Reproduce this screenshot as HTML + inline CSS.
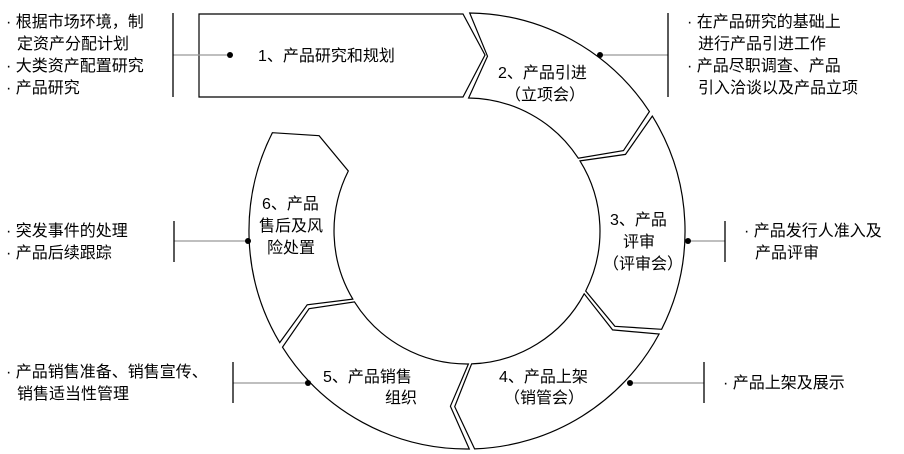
<!DOCTYPE html>
<html><head><meta charset="utf-8"><style>
html,body{margin:0;padding:0;background:#fff;}
svg{display:block;}
text{font-family:"Liberation Sans","Noto Sans CJK SC",sans-serif;font-size:16px;fill:#000;}
</style></head><body>
<svg id="s" width="904" height="454" viewBox="0 0 904 454" xmlns="http://www.w3.org/2000/svg">
<g id="segs" fill="#fff" stroke="#000" stroke-width="1.2"></g>
<polygon points="199,14 463,14 485,55 463,97 199,97" fill="#fff" stroke="#000" stroke-width="1.2"/>
<g stroke="#999" stroke-width="1.2">
<line x1="173" y1="55" x2="230" y2="55"/>
<line x1="600" y1="55" x2="668" y2="55"/>
<line x1="174" y1="241" x2="248" y2="241"/>
<line x1="688" y1="241" x2="725" y2="241"/>
<line x1="233" y1="383" x2="308" y2="383"/>
<line x1="630" y1="383" x2="704" y2="383"/>
</g>
<g stroke="#000" stroke-width="1.3">
<line x1="173" y1="13" x2="173" y2="97"/>
<line x1="668" y1="13" x2="668" y2="97"/>
<line x1="174" y1="221" x2="174" y2="262"/>
<line x1="725" y1="221" x2="725" y2="262"/>
<line x1="233" y1="362" x2="233" y2="403"/>
<line x1="704" y1="362" x2="704" y2="403"/>
</g>
<g fill="#000">
<circle cx="230" cy="55" r="3"/><circle cx="600" cy="55" r="3"/>
<circle cx="248" cy="241" r="3"/><circle cx="688" cy="241" r="3"/>
<circle cx="308" cy="383" r="3"/><circle cx="630" cy="383" r="3"/>
</g>
<text x="258" y="61">1、产品研究和规划</text>
<text x="498" y="78">2、产品引进</text>
<text x="505" y="100">（立项会）</text>
<text x="610" y="225">3、产品</text>
<text x="623" y="247">评审</text>
<text x="603" y="269">（评审会）</text>
<text x="499" y="382">4、产品上架</text>
<text x="504" y="403">（销管会）</text>
<text x="323" y="382">5、产品销售</text>
<text x="385" y="403">组织</text>
<text x="262" y="209">6、产品</text>
<text x="259" y="231">售后及风</text>
<text x="267" y="253">险处置</text>
<text x="6" y="27">· 根据市场环境，制</text>
<text x="17" y="49">定资产分配计划</text>
<text x="6" y="71">· 大类资产配置研究</text>
<text x="6" y="93">· 产品研究</text>
<text x="687" y="27">· 在产品研究的基础上</text>
<text x="698" y="49">进行产品引进工作</text>
<text x="687" y="71">· 产品尽职调查、产品</text>
<text x="698" y="93">引入洽谈以及产品立项</text>
<text x="6" y="236">· 突发事件的处理</text>
<text x="6" y="258">· 产品后续跟踪</text>
<text x="744" y="236">· 产品发行人准入及</text>
<text x="755" y="258">产品评审</text>
<text x="6" y="377">· 产品销售准备、销售宣传、</text>
<text x="17" y="399">销售适当性管理</text>
<text x="723" y="388">· 产品上架及展示</text>
</svg>
<script>
(function(){
var cx=467,cy=231,R=218,r=133,rm=176,g=0.7;
function P(rad,a){a=a*Math.PI/180;return [(cx+rad*Math.cos(a)).toFixed(1),(cy+rad*Math.sin(a)).toFixed(1)];}
var bounds=[[-89.3,-32.5],[-32.5,27.5],[27.5,88.7],[88.7,148.5],[148.5,207.5]];
var out='';
bounds.forEach(function(b,i){
  var s=b[0]+(i==0?0:g), e=b[1]-g;
  var so=P(R,s), sm=P(rm,s+6), si=P(r,s);
  var eo=P(R,e), em=P(rm,e+6), ei=P(r,e);
  var d='M'+so+' A'+R+' '+R+' 0 0 1 '+eo+' L'+em+' L'+ei+' A'+r+' '+r+' 0 0 0 '+si+' L'+sm+' Z';
  out+='<path d="'+d+'"/>';
});
document.getElementById('segs').innerHTML=out;
})();
</script>
</body></html>
